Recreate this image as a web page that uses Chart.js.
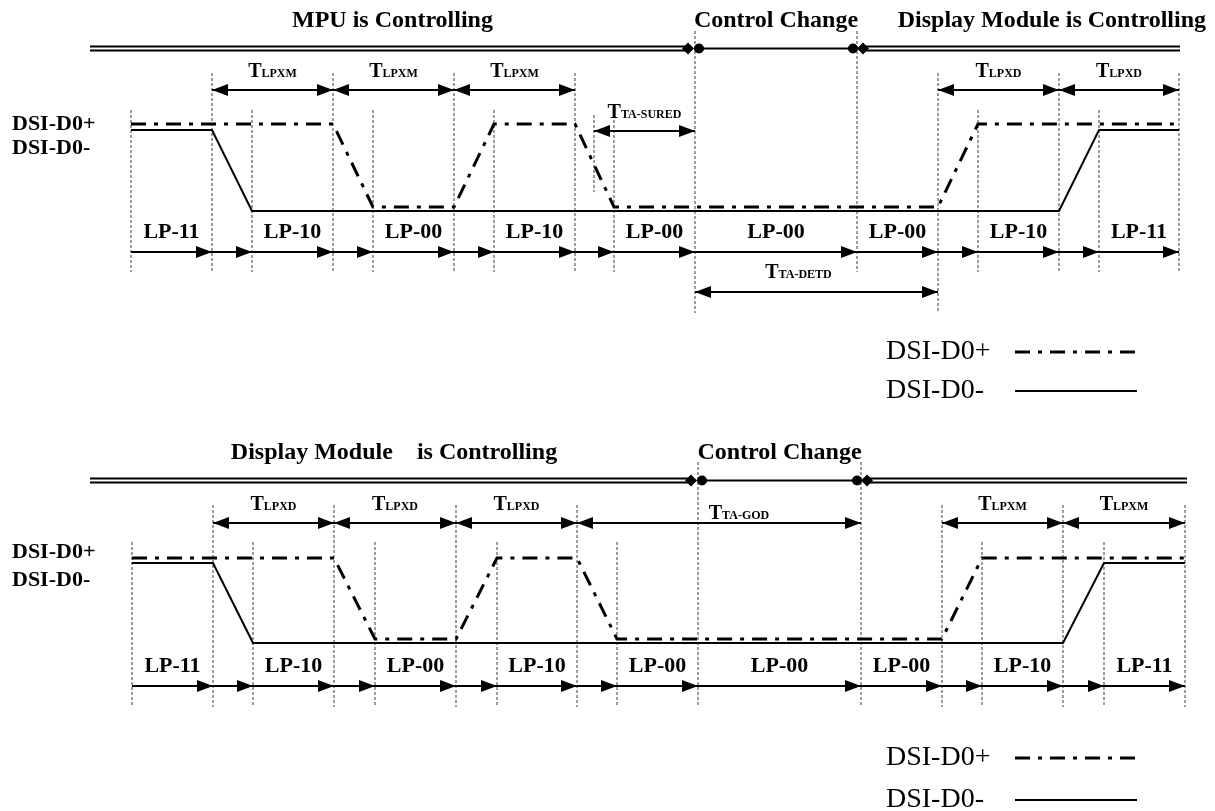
<!DOCTYPE html>
<html>
<head>
<meta charset="utf-8">
<script src="https://cdn.jsdelivr.net/npm/chart.js@4.4.1/dist/chart.umd.min.js"></script>
<style>
  html, body { margin: 0; padding: 0; background: #fff; }
  canvas { display: block; }
</style>
</head>
<body>
<canvas id="timing" width="1215" height="811"></canvas>
<script>
// time marks (dotted guides) of the two panels
const topEdges = [131, 212, 252, 333, 373, 454, 494, 575, 614, 695, 857, 938, 978, 1059, 1099, 1179];
const botEdges = [132, 213, 253, 334, 375, 456, 497, 577, 617, 698, 861, 942, 982, 1063, 1104, 1185];

// line states and which guides they sit between
const stateNames = ['LP-11', 'LP-10', 'LP-00', 'LP-10', 'LP-00', 'LP-00', 'LP-00', 'LP-10', 'LP-11'];
const stateSpans = [[0, 1], [2, 3], [4, 5], [6, 7], [8, 9], [9, 10], [10, 11], [12, 13], [14, 15]];

// waveforms: time of each corner and logic level
const topDpTimes = [131, 333, 373, 454, 494, 575, 614, 938, 978, 1179];
const topDnTimes = [131, 212, 252, 1059, 1099, 1179];
const botDpTimes = [132, 334, 375, 456, 497, 577, 617, 942, 982, 1185];
const botDnTimes = [132, 213, 253, 1063, 1104, 1185];
const dpLevels = [1, 1, 0, 0, 1, 1, 0, 0, 1, 1];
const dnLevels = [1, 1, 0, 0, 1, 1];

// who controls the lane: start, change start, change end, end
const topCtrl = [90, 695, 857, 1180];
const botCtrl = [90, 698, 861, 1187];
const topTitles = ['MPU is Controlling', 'Control Change', 'Display Module is Controlling'];
const botTitles = ['Display Module    is Controlling', 'Control Change', ''];

// timing arrows [from, to, subscript]
const topTiming = [[212, 333, 'LPXM'], [333, 454, 'LPXM'], [454, 575, 'LPXM'], [938, 1059, 'LPXD'], [1059, 1179, 'LPXD']];
const topSure = [594, 695, 'TA-SURED'];
const topDetd = [695, 938, 'TA-DETD'];
const botTiming = [[213, 334, 'LPXD'], [334, 456, 'LPXD'], [456, 577, 'LPXD'], [577, 861, 'TA-GOD'], [942, 1063, 'LPXM'], [1063, 1185, 'LPXM']];

const legendNames = ['DSI-D0+', 'DSI-D0-'];

const W = 1215, H = 811;
const SERIF = '"Liberation Serif", "Times New Roman", serif';
const DASHDOT = [15, 8, 4, 8];

// label placement tweaks for the turnaround arrows (px)
const labelShift = { 'TA-DETD': -18, 'TA-GOD': 20 };
const labelGap = { 'TA-GOD': 4, 'TA-DETD': 14 };

// pixel rows of each panel
const panels = [
  { edges: topEdges, ctrl: topCtrl, titles: topTitles, timing: topTiming, extra: [topSure, topDetd],
    rows: { title: 21, bar: 48.5, t: 90, sure: 131, sureTop: 115, sureBot: 192, detd: 292,
            hiP: 124, loP: 207, hiN: 130, loN: 211, lp: 232, lpArrow: 252,
            vLow: 110, vMid: 73, vHigh: 31, vEnd: 272, vEndLong: 313,
            dsiP: 124, dsiN: 148, legP: 352, legN: 391 } },
  { edges: botEdges, ctrl: botCtrl, titles: botTitles, timing: botTiming, extra: [],
    rows: { title: 453, bar: 480.5, t: 523,
            hiP: 558, loP: 639, hiN: 563, loN: 643, lp: 666, lpArrow: 686,
            vLow: 542, vMid: 505, vHigh: 462, vEnd: 707, vEndLong: 707,
            dsiP: 552, dsiN: 580, legP: 758, legN: 800 } }
];

// y axis that puts level 1 on row hi and level 0 on row lo
function levelAxis(hi, lo) {
  const k = lo - hi;
  return { type: 'linear', display: false, min: (lo - H) / k, max: lo / k };
}

function series(times, levels) {
  return times.map((t, i) => ({ x: t, y: levels[i] }));
}

function arrowHead(ctx, x, y, dir) {
  const len = 16, hw = 6;
  ctx.beginPath();
  ctx.moveTo(x, y);
  ctx.lineTo(x - dir * len, y - hw);
  ctx.lineTo(x - dir * len, y + hw);
  ctx.closePath();
  ctx.fill();
}

function hLine(ctx, x1, x2, y, w) {
  ctx.lineWidth = w;
  ctx.beginPath();
  ctx.moveTo(x1, y);
  ctx.lineTo(x2, y);
  ctx.stroke();
}

function tLabel(ctx, cx, baseline, sub) {
  ctx.textBaseline = 'alphabetic';
  ctx.textAlign = 'left';
  ctx.font = 'bold 20px ' + SERIF;
  const wT = ctx.measureText('T').width;
  ctx.font = 'bold 12px ' + SERIF;
  const wS = ctx.measureText(sub).width;
  const x0 = cx - (wT + wS) / 2;
  ctx.font = 'bold 20px ' + SERIF;
  ctx.fillText('T', x0, baseline);
  ctx.font = 'bold 12px ' + SERIF;
  ctx.fillText(sub, x0 + wT, baseline);
}

function spanArrow(ctx, xs, a, b, y, sub) {
  const x1 = xs.getPixelForValue(a), x2 = xs.getPixelForValue(b);
  hLine(ctx, x1, x2, y, 2);
  arrowHead(ctx, x1, y, -1);
  arrowHead(ctx, x2, y, 1);
  const gap = labelGap[sub] || 13;
  tLabel(ctx, (x1 + x2) / 2 + (labelShift[sub] || 0), y - gap, sub);
}

const timingPlugin = {
  id: 'timing',
  beforeDraw(chart) {
    const ctx = chart.ctx;
    ctx.save();
    ctx.fillStyle = '#fff';
    ctx.fillRect(0, 0, W, H);
    ctx.restore();
  },
  beforeDatasetsDraw(chart) {
    const ctx = chart.ctx, xs = chart.scales.x;
    ctx.save();
    ctx.strokeStyle = '#9c9c9c';
    ctx.lineWidth = 2;
    ctx.setLineDash([3, 2]);
    panels.forEach(p => {
      const r = p.rows;
      const ends = [];
      p.timing.concat(p.extra).forEach(a => { ends.push(a[0], a[1]); });
      const longEnds = p.extra.length ? [p.extra[1][0], p.extra[1][1]] : [];
      p.edges.forEach(t => {
        let top = r.vLow;
        if (t === p.ctrl[1] || t === p.ctrl[2]) top = r.vHigh;
        else if (ends.includes(t)) top = r.vMid;
        const bot = longEnds.includes(t) ? r.vEndLong : r.vEnd;
        const x = xs.getPixelForValue(t);
        ctx.beginPath();
        ctx.moveTo(x, top);
        ctx.lineTo(x, bot);
        ctx.stroke();
      });
      if (p.extra.length) {
        const x = xs.getPixelForValue(p.extra[0][0]);
        ctx.beginPath();
        ctx.moveTo(x, r.sureTop);
        ctx.lineTo(x, r.sureBot);
        ctx.stroke();
      }
    });
    ctx.restore();
  },
  afterDatasetsDraw(chart) {
    const ctx = chart.ctx, xs = chart.scales.x;
    ctx.save();
    ctx.fillStyle = '#000';
    ctx.strokeStyle = '#000';
    panels.forEach(p => {
      const r = p.rows;
      const c = p.ctrl.map(v => xs.getPixelForValue(v));

      // controller bar
      hLine(ctx, c[0], c[1] - 7, r.bar - 2, 1.8);
      hLine(ctx, c[0], c[1] - 7, r.bar + 2, 1.8);
      hLine(ctx, c[1] + 4, c[2] - 4, r.bar, 2);
      hLine(ctx, c[2] + 6, c[3], r.bar - 2, 1.8);
      hLine(ctx, c[2] + 6, c[3], r.bar + 2, 1.8);
      [[c[1] - 7, 'd'], [c[1] + 4, 'c'], [c[2] - 4, 'c'], [c[2] + 6, 'd']].forEach(m => {
        ctx.beginPath();
        if (m[1] === 'c') {
          ctx.arc(m[0], r.bar, 5, 0, Math.PI * 2);
        } else {
          ctx.moveTo(m[0] - 6, r.bar);
          ctx.lineTo(m[0], r.bar - 6);
          ctx.lineTo(m[0] + 6, r.bar);
          ctx.lineTo(m[0], r.bar + 6);
          ctx.closePath();
        }
        ctx.fill();
      });

      // titles
      ctx.font = 'bold 24px ' + SERIF;
      ctx.textBaseline = 'middle';
      ctx.textAlign = 'center';
      ctx.fillText(p.titles[0], (c[0] + c[1]) / 2, r.title);
      ctx.fillText(p.titles[1], (c[1] + c[2]) / 2, r.title);
      if (p.titles[2]) {
        ctx.textAlign = 'right';
        ctx.fillText(p.titles[2], W - 9, r.title);
      }

      // timing arrows
      p.timing.forEach(a => spanArrow(ctx, xs, a[0], a[1], r.t, a[2]));
      if (p.extra.length) {
        spanArrow(ctx, xs, p.extra[0][0], p.extra[0][1], r.sure, p.extra[0][2]);
        spanArrow(ctx, xs, p.extra[1][0], p.extra[1][1], r.detd, p.extra[1][2]);
      }

      // state labels
      ctx.font = 'bold 22px ' + SERIF;
      ctx.textAlign = 'center';
      ctx.textBaseline = 'middle';
      stateSpans.forEach((s, i) => {
        const x = (xs.getPixelForValue(p.edges[s[0]]) + xs.getPixelForValue(p.edges[s[1]])) / 2;
        ctx.fillText(stateNames[i], x, r.lp);
      });

      // state arrows
      for (let i = 0; i < p.edges.length - 1; i++) {
        const x1 = xs.getPixelForValue(p.edges[i]), x2 = xs.getPixelForValue(p.edges[i + 1]);
        hLine(ctx, x1, x2, r.lpArrow, 2);
        arrowHead(ctx, x2, r.lpArrow, 1);
      }

      // signal names
      ctx.font = 'bold 22px ' + SERIF;
      ctx.textAlign = 'left';
      ctx.fillText(legendNames[0], 12, r.dsiP);
      ctx.fillText(legendNames[1], 12, r.dsiN);

      // legend
      ctx.font = '28px ' + SERIF;
      ctx.fillText(legendNames[0], 886, r.legP);
      ctx.fillText(legendNames[1], 886, r.legN);
      ctx.setLineDash(DASHDOT);
      hLine(ctx, 1015, 1137, r.legP, 3);
      ctx.setLineDash([]);
      hLine(ctx, 1015, 1137, r.legN, 2);
    });
    ctx.restore();
  }
};

const base = { borderColor: '#000', pointRadius: 0, tension: 0, fill: false, borderCapStyle: 'butt' };

new Chart(document.getElementById('timing'), {
  type: 'line',
  data: {
    datasets: [
      Object.assign({ label: 'DSI-D0+', data: series(topDpTimes, dpLevels), yAxisID: 'yTopP', borderWidth: 3, borderDash: DASHDOT }, base),
      Object.assign({ label: 'DSI-D0-', data: series(topDnTimes, dnLevels), yAxisID: 'yTopN', borderWidth: 2 }, base),
      Object.assign({ label: 'DSI-D0+', data: series(botDpTimes, dpLevels), yAxisID: 'yBotP', borderWidth: 3, borderDash: DASHDOT }, base),
      Object.assign({ label: 'DSI-D0-', data: series(botDnTimes, dnLevels), yAxisID: 'yBotN', borderWidth: 2 }, base)
    ]
  },
  options: {
    responsive: false,
    animation: false,
    events: [],
    layout: { padding: 0 },
    scales: {
      x: { type: 'linear', display: false, min: 0, max: W },
      yTopP: levelAxis(panels[0].rows.hiP, panels[0].rows.loP),
      yTopN: levelAxis(panels[0].rows.hiN, panels[0].rows.loN),
      yBotP: levelAxis(panels[1].rows.hiP, panels[1].rows.loP),
      yBotN: levelAxis(panels[1].rows.hiN, panels[1].rows.loN)
    },
    plugins: {
      legend: { display: false },
      tooltip: { enabled: false }
    }
  },
  plugins: [timingPlugin]
});
</script>
</body>
</html>
